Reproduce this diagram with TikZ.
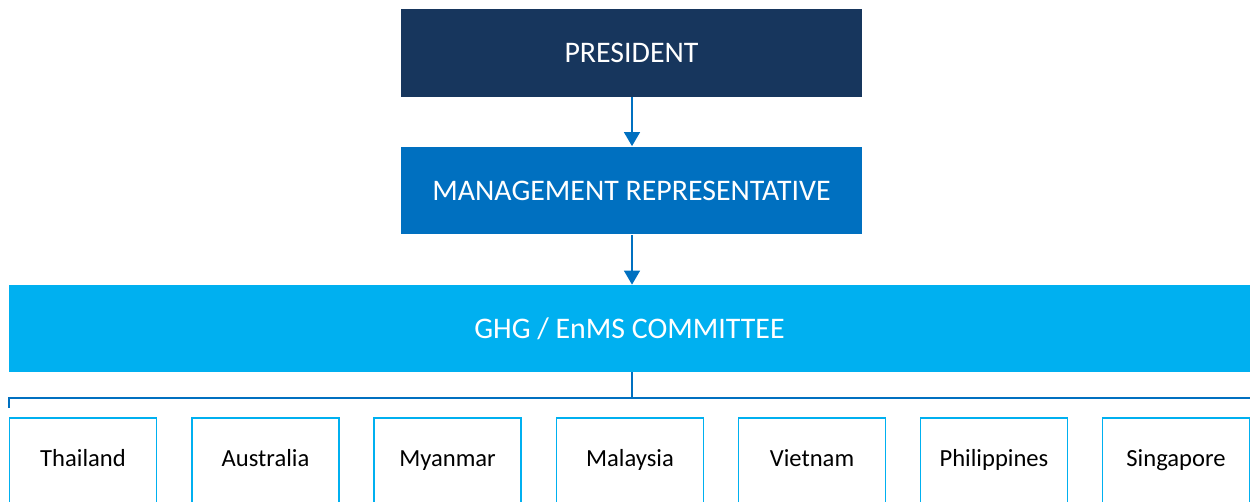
\documentclass[tikz,border=0pt]{standalone}
\usepackage{fontspec}
\setmainfont{Carlito}
\usetikzlibrary{arrows.meta, positioning}
\definecolor{oNavy}{HTML}{17365D}
\definecolor{oBlue}{HTML}{0070C0}
\definecolor{oCyan}{HTML}{00B0F0}

\begin{document}
\begin{tikzpicture}[x=0.02cm, y=-0.02cm, >={Triangle[width=9pt, length=8pt]},
  topbox/.style={rectangle, inner sep=0pt, minimum width=9.22cm, minimum height=1.76cm,
                 text=white, font=\fontsize{17}{20}\selectfont},
  country/.style={rectangle, anchor=north, draw=oCyan, line width=1.1pt, fill=white,
                  minimum width=2.94cm, minimum height=1.74cm, text height=1.55ex, text depth=0.45ex,
                  font=\fontsize{14}{17}\selectfont},
  link/.style={oBlue, line width=1.2pt}]
  \useasboundingbox (0,0) rectangle (1250,502);
  \clip (0,0) rectangle (1250,502);
  % top of the chart
  \node[topbox, fill=oNavy] (pres) at (631.5,53) {PRESIDENT};
  \node[topbox, fill=oBlue] (mr) at (631.5,190.5) {MANAGEMENT REPRESENTATIVE};
  \node[topbox, fill=oCyan, minimum width=24.82cm, minimum height=1.74cm] (comm) at (629.5,328.5)
    {GHG / EnMS COMMITTEE};
  \coordinate (bar) at (632,398);
  \draw[link, ->] (pres.south -| bar) -- (mr.north -| bar);
  \draw[link, ->] (mr.south -| bar) -- (comm.north -| bar);
  % bar over the countries
  \coordinate (barL) at (9,398);
  \coordinate (barR) at (1250,398);
  \coordinate (tick) at (9,408);
  \draw[link] (comm.south -| bar) -- (bar);
  \draw[link] (tick) -- (barL) -- (barR);
  % countries
  \foreach \x/\name/\lab in {83/tha/Thailand, 265.5/aus/Australia, 447.5/mya/Myanmar,
      630/mal/Malaysia, 812/vie/Vietnam, 994/phi/Philippines, 1176/sin/Singapore} {
    \node[country] (\name) at (\x,417) {\lab};
  }
\end{tikzpicture}
\end{document}
